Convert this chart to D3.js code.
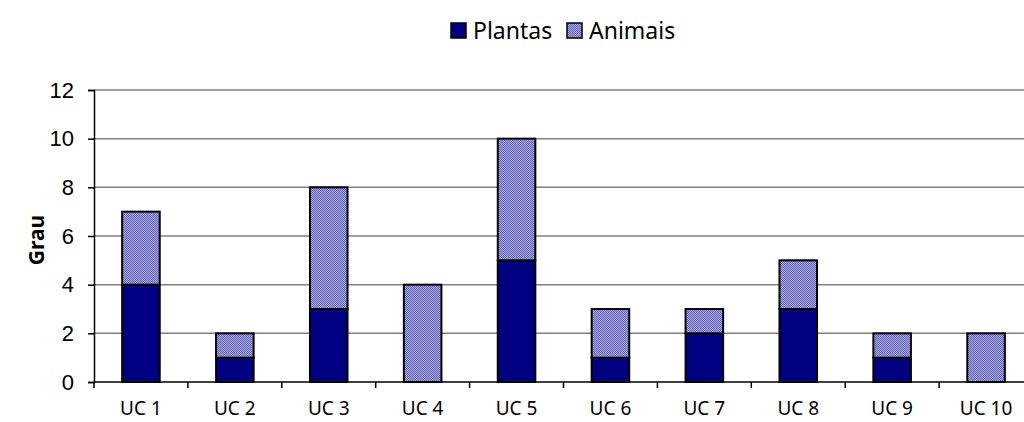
<!DOCTYPE html>
<html>
<head>
<meta charset="utf-8">
<script src="https://cdn.jsdelivr.net/npm/d3@7"></script>
<style>
  body { margin: 0; background: #fff; }
  svg { display: block; font-family: "Noto Sans", "DejaVu Sans", sans-serif; }
</style>
</head>
<body>
<div id="main"></div>
<script>
// Data
const categories = ['UC 1', 'UC 2', 'UC 3', 'UC 4', 'UC 5', 'UC 6', 'UC 7', 'UC 8', 'UC 9', 'UC 10'];
const plantas = [4, 1, 3, 0, 5, 1, 2, 3, 1, 0];
const animais = [3, 1, 5, 4, 5, 2, 1, 2, 1, 2];
const yTicks = [0, 2, 4, 6, 8, 10, 12];
const seriesNames = ['Plantas', 'Animais'];

const w = 1024;
const h = 422;

const svg = d3.select('#main')
    .append('svg')
    .attr('width', w)
    .attr('height', h)

// checker pattern for Animais
const defs = svg.append('defs');
const pat = defs.append('pattern')
    .attr('id', 'checker')
    .attr('width', 2)
    .attr('height', 2)
    .attr('patternUnits', 'userSpaceOnUse');
pat.append('rect').attr('width', 2).attr('height', 2).attr('fill', '#a4a4e4');
pat.append('rect').attr('width', 1).attr('height', 1).attr('fill', '#6868b4');
pat.append('rect').attr('x', 1).attr('y', 1).attr('width', 1).attr('height', 1).attr('fill', '#6868b4');

const colors = ['#000080', 'url(#checker)'];

// Scales
const xScale = d3.scaleBand()
    .domain(categories)
    .range([94, 1033])
    .paddingInner(0.6)
    .paddingOuter(0.3);

const yScale = d3.scaleLinear()
    .domain([0, 12])
    .range([382, 90]);

// Gridlines
svg.append('g')
    .selectAll('line')
    .data(yTicks.filter(d => d > 0))
    .enter()
    .append('line')
    .attr('x1', 94)
    .attr('x2', w)
    .attr('y1', d => yScale(d))
    .attr('y2', d => yScale(d))
    .attr('stroke', '#808080')
    .attr('stroke-width', 1.5)

// Stacked bars
const rows = categories.map((c, i) => ({ cat: c, Plantas: plantas[i], Animais: animais[i] }));
const stack = d3.stack().keys(seriesNames)(rows);

svg.append('g')
    .selectAll('g')
    .data(stack)
    .enter()
    .append('g')
    .attr('fill', (d, i) => colors[i])
    .selectAll('rect')
    .data(d => d.filter(p => p[1] - p[0] > 0))
    .enter()
    .append('rect')
    .attr('x', d => xScale(d.data.cat))
    .attr('y', d => yScale(d[1]))
    .attr('width', xScale.bandwidth())
    .attr('height', d => yScale(d[0]) - yScale(d[1]))
    .attr('stroke', '#000')
    .attr('stroke-width', 2)

// Axes
const yAxis = d3.axisLeft(yScale)
    .tickValues(yTicks)
    .tickSize(6)
    .tickPadding(14);

const gy = svg.append('g')
    .attr('transform', 'translate(94,0)')
    .call(yAxis)
gy.select('.domain').attr('stroke', '#000').attr('stroke-width', 1.5);
gy.selectAll('.tick line').attr('stroke', '#000').attr('stroke-width', 1.5);
gy.selectAll('text').style('font-size', '22px').attr('fill', '#000');

// x axis line + tick marks between categories
svg.append('line')
    .attr('x1', 94).attr('x2', w)
    .attr('y1', yScale(0)).attr('y2', yScale(0))
    .attr('stroke', '#000').attr('stroke-width', 1.5)

const step = xScale.step();
svg.append('g')
    .selectAll('line')
    .data(categories)
    .enter()
    .append('line')
    .attr('x1', (d, i) => 94 + step * i)
    .attr('x2', (d, i) => 94 + step * i)
    .attr('y1', yScale(0))
    .attr('y2', yScale(0) + 6)
    .attr('stroke', '#000').attr('stroke-width', 1.5)

svg.append('g')
    .selectAll('text')
    .data(categories)
    .enter()
    .append('text')
    .attr('x', d => xScale(d) + xScale.bandwidth() / 2)
    .attr('y', 415)
    .attr('text-anchor', 'middle')
    .style('font-size', '19px')
    .text(d => d)

// Y label
svg.append('text')
    .attr('transform', 'translate(44,240) rotate(-90)')
    .attr('text-anchor', 'middle')
    .style('font-size', '21px')
    .style('font-weight', 'bold')
    .text('Grau')

// Legend
const legendX = [451, 567];
const legend = svg.append('g')
    .selectAll('g')
    .data(seriesNames)
    .enter()
    .append('g')
    .attr('transform', (d, i) => `translate(${legendX[i]}, 23)`)
legend.append('rect')
    .attr('width', 15)
    .attr('height', 15)
    .attr('fill', (d, i) => colors[i])
    .attr('stroke', '#000')
    .attr('stroke-width', 1.5)
legend.append('text')
    .attr('x', 22)
    .attr('y', 16)
    .style('font-size', '23px')
    .text(d => d)
</script>
</body>
</html>
